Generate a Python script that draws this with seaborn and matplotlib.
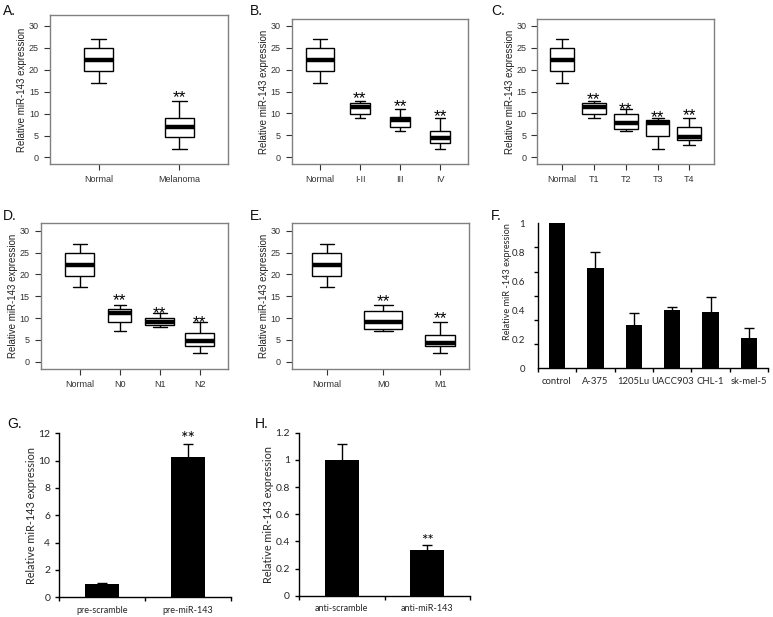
import numpy as np
import pandas as pd
import matplotlib
matplotlib.use("Agg")
import matplotlib.pyplot as plt
import seaborn as sns
from matplotlib.ticker import FixedLocator, FuncFormatter

# five-number summaries: [min, q1, median, q3, max]
normal_stats = [17.0, 19.65, 22.2, 24.9, 27.0]

a_groups = ["Normal", "Melanoma"]
a_stats = [normal_stats, [1.9, 4.6, 6.9, 9.0, 12.95]]
a_stars = [None, 14.8]

b_groups = ["Normal", "I-II", "III", "IV"]
b_stats = [normal_stats, [9.0, 9.9, 11.4, 12.5, 12.95],
           [5.9, 6.85, 8.4, 9.1, 11.0], [2.0, 3.35, 4.4, 5.9, 9.0]]
b_stars = [None, 14.6, 12.7, 10.6]

c_groups = ["Normal", "T1", "T2", "T3", "T4"]
c_stats = [normal_stats, [9.0, 9.9, 11.4, 12.3, 12.95],
           [5.9, 6.4, 7.9, 9.9, 11.0], [1.9, 4.9, 7.9, 8.4, 9.0],
           [2.9, 3.9, 4.65, 6.9, 9.0]]
c_stars = [None, 14.5, 12.1, 10.3, 10.8]

d_groups = ["Normal", "N0", "N1", "N2"]
d_stats = [normal_stats, [7.1, 9.0, 11.2, 12.1, 13.0],
           [8.0, 8.5, 9.1, 10.1, 11.1], [2.1, 3.6, 4.8, 6.6, 9.0]]
d_stars = [None, 15.3, 12.2, 10.3]

e_groups = ["Normal", "M0", "M1"]
e_stats = [normal_stats, [7.1, 7.6, 9.2, 11.5, 13.0],
           [2.1, 3.6, 4.35, 6.1, 9.0]]
e_stars = [None, 15.0, 11.1]

f_groups = ["control", "A-375", "1205Lu", "UACC903", "CHL-1", "sk-mel-5"]
f_values = [1.0, 0.69, 0.30, 0.40, 0.39, 0.21]
f_errors = [0.0, 0.11, 0.08, 0.02, 0.10, 0.07]

g_groups = ["pre-scramble", "pre-miR-143"]
g_values = [1.0, 10.25]
g_errors = [0.08, 1.0]

h_groups = ["anti-scramble", "anti-miR-143"]
h_values = [1.0, 0.334]
h_errors = [0.12, 0.036]

box_ticks = [0, 5, 10, 15, 20, 25, 30]

W, H = 773, 617

sns.set_theme(style="ticks")
plt.rcParams["font.family"] = ["Liberation Sans", "DejaVu Sans"]

fig = plt.figure(figsize=(W / 100, H / 100), dpi=100)


def make_ax(left, right, top, bottom):
    return fig.add_axes([left / W, 1 - bottom / H, (right - left) / W, (bottom - top) / H])


def star(ax, x, y, size=12.5, family=None):
    kw = {} if family is None else {"family": family}
    ax.annotate("**", xy=(x, y), xytext=(0, -0.57 * size), textcoords="offset points",
                ha="center", va="baseline", fontsize=size, color="black", **kw)


def box_panel(ax, groups, stats, widths, stars, xlim, ylim):
    for i, g in enumerate(groups):
        df = pd.DataFrame({"group": [g] * len(stats[i]), "value": stats[i]})
        sns.boxplot(data=df, x="group", y="value", order=groups, ax=ax,
                    width=widths[i], whis=(0, 100), color="white", saturation=1,
                    linecolor="black", linewidth=1.0, showfliers=False,
                    medianprops={"linewidth": 3.2, "color": "black"})
    for i, s in enumerate(stars):
        if s is not None:
            star(ax, i, s)
    ax.set_xlim(*xlim)
    ax.set_ylim(*ylim)
    ax.set_yticks(box_ticks)
    ax.set_xlabel("")
    ax.set_ylabel("Relative miR-143 expression", fontsize=7, color="#222222", labelpad=1)
    ax.tick_params(axis="both", labelsize=6.5, colors="#333333", length=4.5, width=0.8)
    for sp in ax.spines.values():
        sp.set_visible(True)
        sp.set_color("#808080")
        sp.set_linewidth(1.0)


def bar_panel(ax, groups, values, errors, width, ylim, yticks, fs_tick, fs_x):
    df = pd.DataFrame({"group": groups, "value": values})
    sns.barplot(data=df, x="group", y="value", ax=ax, color="black", saturation=1,
                width=width, errorbar=None, linewidth=0)
    pos = np.arange(len(groups))
    _, caps, _ = ax.errorbar(pos, values, yerr=[np.zeros(len(errors)), errors], fmt="none",
                             ecolor="black", elinewidth=1.0, capsize=3.5, capthick=1.0)
    # upper error only: hide the caps sitting on the bar tops
    caps[0].set_visible(False)
    ax.set_xlim(-0.5, len(groups) - 0.5)
    ax.set_ylim(*ylim)
    ax.set_yticks(yticks)
    ax.yaxis.set_major_formatter(FuncFormatter(lambda v, _: f"{v:g}"))
    ax.xaxis.set_minor_locator(FixedLocator(np.arange(-0.5, len(groups), 1.0)))
    ax.tick_params(axis="x", which="major", length=0, labelsize=fs_x, pad=6)
    ax.tick_params(axis="x", which="minor", length=3, width=1.0, color="black")
    ax.tick_params(axis="y", length=3, width=1.0, labelsize=fs_tick, color="black")
    ax.set_xlabel("")
    ax.set_ylabel("")
    for side in ["top", "right"]:
        ax.spines[side].set_visible(False)
    for side in ["left", "bottom"]:
        ax.spines[side].set_color("black")
        ax.spines[side].set_linewidth(1.0)
    for lab in ax.get_xticklabels() + ax.get_yticklabels():
        lab.set_family("Lato")


# top row
ax_a = make_ax(50, 228, 15, 164)
box_panel(ax_a, a_groups, a_stats, [0.35, 0.36], a_stars, (-0.6, 1.6), (-1.5, 32.5))

ax_b = make_ax(291.7, 468.3, 19.3, 164.3)
box_panel(ax_b, b_groups, b_stats, [0.7, 0.49, 0.5, 0.49], b_stars, (-0.7, 3.7), (-1.6, 31.5))

ax_c = make_ax(537.3, 714.3, 19.3, 164.3)
box_panel(ax_c, c_groups, c_stats, [0.75] * 5, c_stars, (-0.77, 4.78), (-1.6, 31.5))

# middle row
ax_d = make_ax(40.7, 227.7, 223.3, 369)
box_panel(ax_d, d_groups, d_stats, [0.72, 0.58, 0.72, 0.72], d_stars, (-0.98, 3.7), (-1.67, 31.7))

ax_e = make_ax(291.7, 469, 223.3, 369)
box_panel(ax_e, e_groups, e_stats, [0.51, 0.67, 0.52], e_stars, (-0.62, 2.51), (-1.67, 31.7))

ax_f = make_ax(537.7, 768.3, 223.3, 368.3)
bar_panel(ax_f, f_groups, f_values, f_errors, 0.43, (0, 1.0),
          [0, 0.2, 0.4, 0.6, 0.8, 1.0], 7, 6.8)
ax_f.tick_params(axis="y", which="major", length=0, pad=9)
ax_f.yaxis.set_minor_locator(FixedLocator(np.linspace(0, 1, 7)))
ax_f.tick_params(axis="y", which="minor", length=3, width=1.0, color="black")
fig.text(507 / W, 1 - 282 / H, "Relative miR -143 expression", rotation=90,
         ha="center", va="center", fontsize=6.6, family="Lato")

# bottom row
ax_g = make_ax(59.3, 231, 433.3, 597.3)
bar_panel(ax_g, g_groups, g_values, g_errors, 0.4, (0, 12), [0, 2, 4, 6, 8, 10, 12], 7.5, 6.5)
star(ax_g, 1, 11.97, size=13, family="Lato")
ax_g.set_ylabel("Relative miR-143 expression", fontsize=7.8, labelpad=1, family="Lato")

ax_h = make_ax(299, 470, 432.7, 595.7)
bar_panel(ax_h, h_groups, h_values, h_errors, 0.4, (0, 1.2),
          [0, 0.2, 0.4, 0.6, 0.8, 1.0, 1.2], 7.5, 6.5)
star(ax_h, 1, 0.44, size=11, family="Lato")
ax_h.set_ylabel("Relative miR-143 expression", fontsize=7.8, labelpad=1, family="Lato")

# panel letters
letters = [("A.", 3, 4), ("B.", 250, 4), ("C.", 491, 4),
           ("D.", 3, 209), ("E.", 250, 209), ("F.", 491, 209),
           ("G.", 7, 417), ("H.", 255, 417)]
for txt, x, y in letters:
    fig.text(x / W, 1 - y / H, txt, ha="left", va="top", fontsize=10, color="#111111")

fig.savefig("out.png", dpi=100)
